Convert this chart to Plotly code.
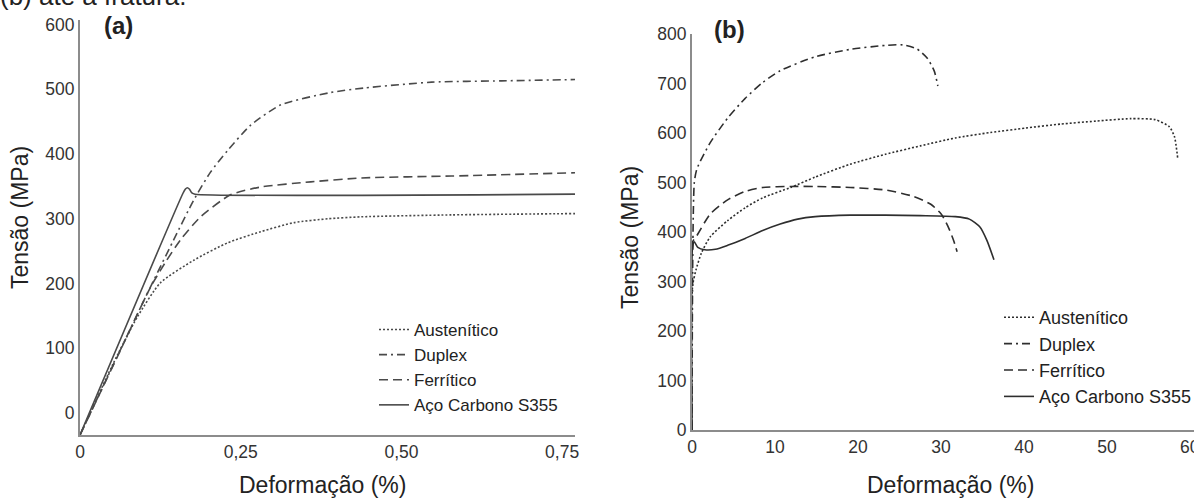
import plotly.graph_objects as go

W, H = 1194, 498

# ---------- (a) initial part of the stress-strain curves ----------
a_aus_x = [0, 0.052, 0.089, 0.125, 0.177, 0.23, 0.281, 0.333, 0.386, 0.4375, 0.578, 0.77]
a_aus_y = [0, 111, 182, 235, 270, 297, 314, 328, 334, 337, 340, 342]

a_dup_x = [0, 0.10, 0.145, 0.177, 0.203, 0.230, 0.266, 0.3125, 0.39, 0.442, 0.547, 0.656, 0.77]
a_dup_y = [0, 209, 300, 363, 406, 440, 479, 510, 529, 536, 545, 547, 549]

a_fer_x = [0, 0.0625, 0.109, 0.133, 0.156, 0.1875, 0.234, 0.281, 0.359, 0.4375, 0.578, 0.77]
a_fer_y = [0, 130, 227, 267, 301, 337, 371, 383, 391, 397, 400, 405]

a_car_x = [0, 0.160, 0.164, 0.167, 0.170, 0.174, 0.179, 0.77]
a_car_y = [0, 373, 380, 382, 380, 374, 372, 372]

a_xticks = [0, 0.25, 0.5, 0.75]
a_xtext = ["0", "0,25", "0,50", "0,75"]
a_yticks = [0, 100, 200, 300, 400, 500, 600]

# ---------- (b) curves up to fracture ----------
b_aus_x = [0, 0.07, 0.49, 1.12, 2.18, 4.29, 6.41, 8.52, 11.89, 14.85, 19.07, 23.30,
           27.52, 31.74, 35.96, 40.19, 44.41, 48.64, 52.86, 55.81, 57.51, 58.14, 58.55]
b_aus_y = [0, 291, 324, 357, 390, 423, 449, 469, 490, 511, 537, 557,
           574, 590, 601, 610, 618, 624, 629, 627, 613, 593, 547]

b_dup_x = [0, 0.28, 0.60, 2.18, 4.29, 6.41, 8.52, 10.63, 14.85, 19.07, 23.30, 25.41,
           27.10, 28.36, 29.20, 29.63]
b_dup_y = [0, 500, 528, 580, 630, 670, 702, 726, 754, 769, 777, 778,
           770, 751, 725, 695]

b_fer_x = [0, 0.07, 0.49, 2.18, 4.29, 6.41, 8.52, 11.89, 14.85, 19.07, 23.30, 26.67,
           28.78, 30.05, 30.89, 31.53, 31.95]
b_fer_y = [0, 380, 390, 436, 465, 482, 490, 492, 492, 490, 485, 472,
           456, 436, 410, 383, 360]

b_car_x = [0, 0.07, 0.28, 0.70, 1.54, 2.82, 4.29, 6.41, 8.52, 10.63, 12.74, 14.85,
           19.07, 23.30, 27.52, 31.74, 33.43, 34.70, 35.54, 36.39]
b_car_y = [0, 370, 380, 369, 364, 365, 373, 387, 403, 416, 426, 431,
           434, 434, 433, 431, 426, 410, 383, 344]

b_xticks = [0, 10, 20, 30, 40, 50, 60]
b_yticks = [0, 100, 200, 300, 400, 500, 600, 700, 800]

names = ["Austenítico", "Duplex", "Ferrítico", "Aço Carbono S355"]
dashes = ["2px,2px", "8px,4px,2px,4px", "9px,5px", "solid"]

FONT = "Liberation Sans, Arial, sans-serif"
AXIS_COLOR = "#8c8c8c"

fig = go.Figure()

a_series = [(a_aus_x, a_aus_y), (a_dup_x, a_dup_y), (a_fer_x, a_fer_y), (a_car_x, a_car_y)]
for (xs, ys), name, dash in zip(a_series, names, dashes):
    fig.add_trace(go.Scatter(
        x=xs, y=ys, name=name, mode="lines", xaxis="x", yaxis="y",
        line=dict(color="#4a4a4a", width=1.6, dash=dash, shape="spline", smoothing=0.6),
        legend="legend",
    ))

b_series = [(b_aus_x, b_aus_y), (b_dup_x, b_dup_y), (b_fer_x, b_fer_y), (b_car_x, b_car_y)]
for (xs, ys), name, dash in zip(b_series, names, dashes):
    fig.add_trace(go.Scatter(
        x=xs, y=ys, name=name, mode="lines", xaxis="x2", yaxis="y2",
        line=dict(color="#2e2e2e", width=1.6, dash=dash, shape="spline", smoothing=0.6),
        legend="legend2",
    ))

axis_common = dict(
    showline=True, linecolor=AXIS_COLOR, linewidth=2, showgrid=False,
    zeroline=False, ticks="", tickfont=dict(family=FONT, size=17.5, color="#333"),
    fixedrange=True, automargin=False,
)

fig.update_layout(
    width=W, height=H,
    margin=dict(l=0, r=0, t=0, b=0, autoexpand=False),
    paper_bgcolor="white", plot_bgcolor="white",
    font=dict(family=FONT, color="#222"),
    showlegend=True,
    xaxis=dict(domain=[80 / W, 575 / W], range=[0, 0.77], anchor="y",
               tickmode="array", tickvals=a_xticks, ticktext=a_xtext, **axis_common),
    yaxis=dict(domain=[63 / H, 478 / H], range=[0, 641], anchor="x",
               tickmode="array", tickvals=a_yticks, ticklabelshift=-22, **axis_common),
    xaxis2=dict(domain=[692 / W, 1.0], range=[0, 60.5], anchor="y2",
                tickmode="array", tickvals=b_xticks, ticklabeloverflow="allow",
                **axis_common),
    yaxis2=dict(domain=[68 / H, 464 / H], range=[0, 800], anchor="x2",
                tickmode="array", tickvals=b_yticks, **axis_common),
    legend=dict(x=374 / W, y=1 - 312 / H, xanchor="left", yanchor="top",
                bgcolor="rgba(0,0,0,0)", font=dict(family=FONT, size=17, color="#222"),
                itemwidth=30, traceorder="normal"),
    legend2=dict(x=999 / W, y=1 - 299 / H, xanchor="left", yanchor="top",
                 bgcolor="rgba(0,0,0,0)", font=dict(family=FONT, size=18, color="#222"),
                 itemwidth=30, traceorder="normal"),
)

def label(text, px, py, size, bold=False, angle=0, xanchor="center"):
    fig.add_annotation(
        text=f"<b>{text}</b>" if bold else text,
        x=px / W, y=1 - py / H, xref="paper", yref="paper",
        xanchor=xanchor, yanchor="middle", showarrow=False, textangle=angle,
        font=dict(family=FONT, size=size, color="#222"),
    )

label("(b) até a fratura.", -2, -4, 26, xanchor="left")
label("(a)", 118, 26, 24, bold=True)
label("(b)", 730, 30, 24, bold=True)
label("Tensão (MPa)", 20, 218, 23, angle=-90)
label("Tensão (MPa)", 630, 238, 23, angle=-90)
label("Deformação (%)", 322, 485, 23)
label("Deformação (%)", 950, 485, 23)

fig.write_html("out.html")
